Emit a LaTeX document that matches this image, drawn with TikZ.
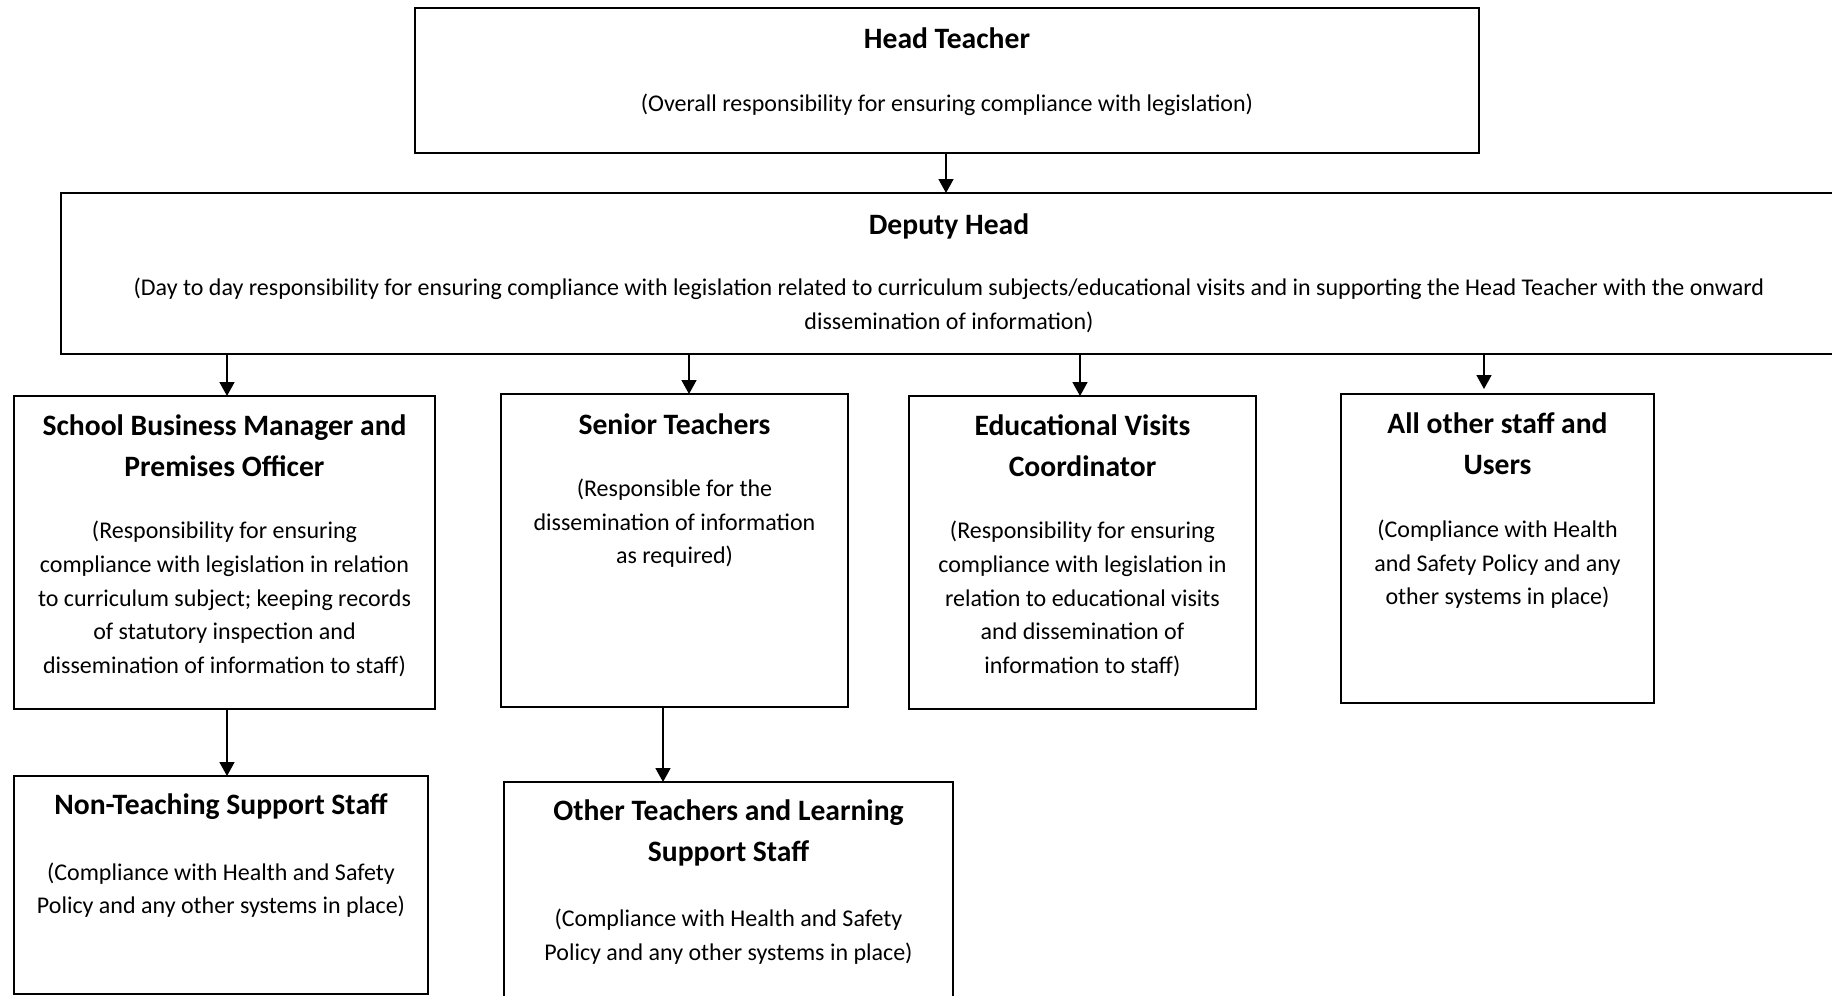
\documentclass[tikz,border=0pt]{standalone}
\usepackage{fontspec}
\setmainfont{Carlito}
\usetikzlibrary{arrows.meta}
\begin{document}
\begin{tikzpicture}[x=0.5pt,y=-0.5pt,
  box/.style={draw=black,line width=1.2pt,fill=none,inner sep=0pt,outer sep=0pt},
  ttl/.style={font=\fontsize{14.8pt}{20.5pt}\selectfont\bfseries,align=center,inner sep=0pt},
  bdy/.style={font=\fontsize{12pt}{16.8pt}\selectfont,align=center,inner sep=0pt},
  arr/.style={line width=0.85pt,-{Triangle[length=7pt,width=7.5pt]}}]
\useasboundingbox (0,0) rectangle (1832,996);
% boxes
\node[box,minimum width=532pt,minimum height=72.5pt] (head) at (947,80.5) {};
\node[box,minimum width=888pt,minimum height=80.5pt] (dep) at (949,273.5) {};
\node[box,minimum width=210.5pt,minimum height=156.5pt] (sbm) at (224.5,552.5) {};
\node[box,minimum width=173.5pt,minimum height=156.5pt] (sen) at (674.5,550.5) {};
\node[box,minimum width=173.5pt,minimum height=156.5pt] (evc) at (1082.5,552.5) {};
\node[box,minimum width=156.5pt,minimum height=154.5pt] (aos) at (1497.5,548.5) {};
\node[box,minimum width=207pt,minimum height=109pt] (nts) at (221,885) {};
\node[box,minimum width=224.5pt,minimum height=114pt] (ots) at (728.5,896) {};
% texts
\node[ttl] (headT) at (947,38) {Head Teacher};
\node[bdy] (headB) at (947,105) {(Overall responsibility for ensuring compliance with legislation)};
\node[ttl] (depT) at (949,226) {Deputy Head};
\node[bdy] (depB) at (949,305.5) {(Day to day responsibility for ensuring compliance with legislation related to curriculum subjects/educational visits and in supporting the Head Teacher with the onward\\dissemination of information)};
\node[ttl] (sbmT) at (224.5,446) {School Business Manager and\\Premises Officer};
\node[bdy] (sbmB) at (224.5,599) {(Responsibility for ensuring\\compliance with legislation in relation\\to curriculum subject; keeping records\\of statutory inspection and\\dissemination of information to staff)};
\node[ttl] (senT) at (674.5,424) {Senior Teachers};
\node[bdy] (senB) at (674.5,523.5) {(Responsible for the\\dissemination of information\\as required)};
\node[ttl] (evcT) at (1082.5,446) {Educational Visits\\Coordinator};
\node[bdy] (evcB) at (1082.5,599) {(Responsibility for ensuring\\compliance with legislation in\\relation to educational visits\\and dissemination of\\information to staff)};
\node[ttl] (aosT) at (1497.5,444) {All other staff and\\Users};
\node[bdy] (aosB) at (1497.5,564.5) {(Compliance with Health\\and Safety Policy and any\\other systems in place)};
\node[ttl] (ntsT) at (221,807) {Non-Teaching Support Staff};
\node[bdy] (ntsB) at (221,890) {(Compliance with Health and Safety\\Policy and any other systems in place)};
\node[ttl] (otsT) at (728.5,833) {Other Teachers and Learning\\Support Staff};
\node[bdy] (otsB) at (728.5,936.5) {(Compliance with Health and Safety\\Policy and any other systems in place)};
% connectors
\draw[arr] (head.south -| 946,0) -- (dep.north -| 946,0);
\draw[arr] (dep.south -| 227,0) -- (sbm.north -| 227,0);
\draw[arr] (dep.south -| 689,0) -- (sen.north -| 689,0);
\draw[arr] (dep.south -| 1080,0) -- (evc.north -| 1080,0);
\coordinate (aosIn) at (1484,389);
\draw[arr] (dep.south -| aosIn) -- (aosIn);
\draw[arr] (sbm.south -| 227,0) -- (nts.north -| 227,0);
\draw[arr] (sen.south -| 663,0) -- (ots.north -| 663,0);
\end{tikzpicture}
\end{document}
